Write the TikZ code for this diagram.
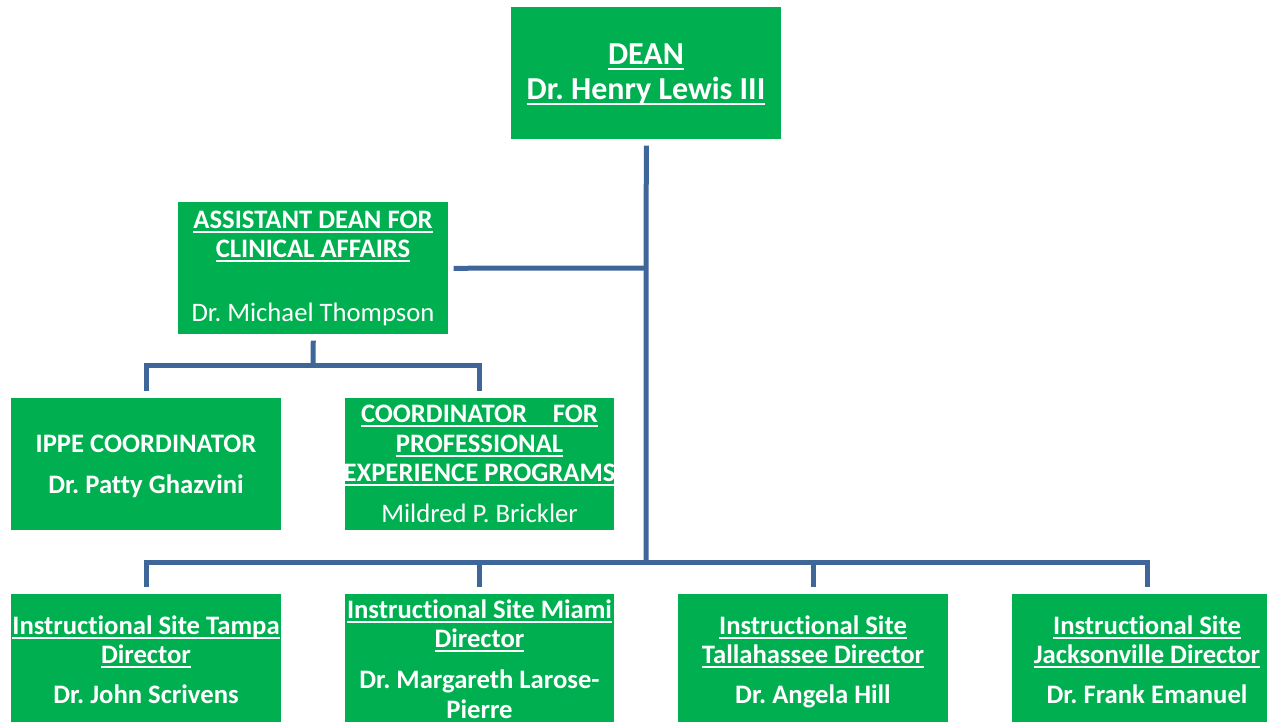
\documentclass[tikz,border=0pt]{standalone}
\usepackage{fontspec}
\setmainfont{Carlito}[Ligatures={NoCommon}]
\definecolor{boxgreen}{HTML}{00B050}
\definecolor{linkblue}{HTML}{3F6699}
\newcommand\uln[1]{\setbox0\hbox{#1}\rlap{\vrule height -0.12em depth 0.2em width \wd0}\box0}
\frenchspacing
\begin{document}
\begin{tikzpicture}[x=0.75pt,y=-0.75pt,
  box/.style={fill=boxgreen, draw=none, anchor=north west, inner sep=0pt, minimum width=202.5pt, minimum height=99pt},
  txt/.style={text=white, anchor=base, inner sep=0pt, font=\fontsize{20}{24}\selectfont},
  btxt/.style={txt, font=\fontsize{20}{24}\selectfont\bfseries},
  bigtxt/.style={txt, font=\fontsize{24}{28}\selectfont\bfseries},
  conn/.style={draw=linkblue, line width=3.75pt}]
\clip (0,0) rectangle (1267,721);
% boxes
\node[box] (dean) at (511,7) {};
\node[box] (asst) at (178,202) {};
\node[box] (ippe) at (11,398) {};
\node[box, minimum width=201.75pt] (coord) at (345,398) {};
\node[box, minimum height=105pt] (tampa) at (11,594) {};
\node[box, minimum height=105pt, minimum width=201.75pt] (miami) at (345,594) {};
\node[box, minimum height=105pt] (tall) at (678,594) {};
\node[box, minimum height=105pt] (jack) at (1012,594) {};
% connectors
\coordinate (ja) at (646,268);
\coordinate (bus) at (646,562);
\coordinate (sub) at (313,365);
\draw[conn] ([yshift=-4.5pt]dean.south) -- (bus);
\draw[conn] ([xshift=3.75pt]asst.east) -- (ja);
\draw[conn] ([yshift=-4.5pt]asst.south) -- (sub);
\draw[conn] ([yshift=5.25pt]ippe.north) |- (sub) -| ([yshift=5.25pt]coord.north);
\draw[conn] ([yshift=5.25pt]tampa.north) |- (bus) -| ([yshift=5.25pt]jack.north);
\draw[conn] ([yshift=5.25pt]miami.north) -- (miami.north |- bus);
\draw[conn] ([yshift=5.25pt]tall.north) -- (tall.north |- bus);
% texts
\node[bigtxt] (dean1) at (646,64) {\uln{DEAN}};
\node[bigtxt] (dean2) at (646,99) {\uln{Dr. Henry Lewis III}};
\node[btxt] (asst1) at (313,228) {\uln{ASSISTANT DEAN FOR}};
\node[btxt] (asst2) at (313,257) {\uln{CLINICAL AFFAIRS}};
\node[txt] (asst3) at (313,321) {Dr. Michael Thompson};
\node[btxt] (ippe1) at (146,452) {IPPE COORDINATOR};
\node[btxt] (ippe2) at (146,493) {Dr. Patty Ghazvini};
\node[btxt] (coord1) at (479.5,422) {\uln{\makebox[177.75pt][s]{COORDINATOR\hfill FOR}}};
\node[btxt] (coord2) at (479.5,452) {\uln{PROFESSIONAL}};
\node[btxt] (coord3) at (479.5,481) {\uln{EXPERIENCE PROGRAMS}};
\node[txt] (coord4) at (479.5,522) {Mildred P. Brickler};
\node[btxt] (tampa1) at (146,634) {\uln{Instructional Site Tampa}};
\node[btxt] (tampa2) at (146,663) {\uln{Director}};
\node[btxt] (tampa3) at (146,703) {Dr. John Scrivens};
\node[btxt] (miami1) at (479.5,618) {\uln{Instructional Site Miami}};
\node[btxt] (miami2) at (479.5,647) {\uln{Director}};
\node[btxt] (miami3) at (479.5,688) {Dr. Margareth Larose-};
\node[btxt] (miami4) at (479.5,718) {Pierre};
\node[btxt] (tall1) at (813,634) {\uln{Instructional Site}};
\node[btxt] (tall2) at (813,663) {\uln{Tallahassee Director}};
\node[btxt] (tall3) at (813,703) {Dr. Angela Hill};
\node[btxt] (jack1) at (1147,634) {\uln{Instructional Site}};
\node[btxt] (jack2) at (1147,663) {\uln{Jacksonville Director}};
\node[btxt] (jack3) at (1147,703) {Dr. Frank Emanuel};
\end{tikzpicture}
\end{document}
